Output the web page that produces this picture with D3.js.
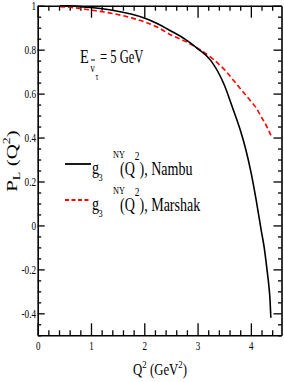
<!DOCTYPE html>
<html>
<head>
<meta charset="utf-8">
<script src="https://cdn.jsdelivr.net/npm/d3@7"></script>
<style>
  body { margin: 0; background: #fff; }
  svg { display: block; }
  text { font-family: "Liberation Serif", "Times New Roman", serif; fill: #000; }
</style>
</head>
<body>
<script>
// values
var q2Nambu = [0.42, 0.6, 0.8, 1.0, 1.25, 1.5, 1.75, 2.0, 2.25, 2.5, 2.75, 3.0, 3.25, 3.5, 3.65, 3.8, 3.9, 4.0, 4.1, 4.2, 4.25, 4.3, 4.34, 4.36, 4.375];
var pNambu  = [1.0, 0.999, 0.996, 0.992, 0.985, 0.975, 0.962, 0.944, 0.918, 0.885, 0.85, 0.805, 0.75, 0.64, 0.54, 0.435, 0.35, 0.245, 0.115, -0.03, -0.1, -0.195, -0.28, -0.34, -0.42];
var q2Marshak = [0.42, 0.6, 0.8, 1.0, 1.25, 1.5, 1.75, 2.0, 2.25, 2.5, 2.75, 3.0, 3.25, 3.5, 3.75, 4.0, 4.1, 4.2, 4.3, 4.375];
var pMarshak  = [0.996, 0.993, 0.987, 0.98, 0.971, 0.96, 0.945, 0.927, 0.902, 0.867, 0.84, 0.807, 0.765, 0.71, 0.638, 0.565, 0.535, 0.492, 0.45, 0.41];
var xTicks = [0, 1, 2, 3, 4];
var yTicks = [-0.4, -0.2, 0, 0.2, 0.4, 0.6, 0.8, 1];
var yTickLabels = ["-0.4", "-0.2", "0", "0.2", "0.4", "0.6", "0.8", "1"];
var seriesNames = ["Nambu", "Marshak"];

var W = 284, H = 382;
var margin = {top: 5.7, right: 2.5, bottom: 46.7, left: 37.7};
var width = W - margin.left - margin.right,
    height = H - margin.top - margin.bottom;

var svg = d3.select("body").append("svg")
    .attr("width", W)
    .attr("height", H);

var g = svg.append("g")
    .attr("transform", "translate(" + margin.left + "," + margin.top + ")");

var x = d3.scaleLinear().domain([0, 4.575]).range([0, width]);
var y = d3.scaleLinear().domain([-0.5, 1]).range([height, 0]);

var minorX = d3.range(0, 4.6, 0.2).filter(function(d) { return Math.abs(d - Math.round(d)) > 1e-6; });
var minorY = d3.range(-0.5, 1.001, 0.05).filter(function(d) { return Math.abs(d * 5 - Math.round(d * 5)) > 1e-6; });

function styleAxis(sel) {
  sel.selectAll("path").attr("stroke", "#000").attr("stroke-width", 1.6);
  sel.selectAll("line").attr("stroke", "#000").attr("stroke-width", 1.3);
}

// minor ticks, all pointing inward
g.append("g").attr("transform", "translate(0," + height + ")")
  .call(d3.axisBottom(x).tickValues(minorX).tickSize(-5).tickFormat(""))
  .call(styleAxis).select(".domain").remove();
g.append("g")
  .call(d3.axisTop(x).tickValues(minorX).tickSize(-5).tickFormat(""))
  .call(styleAxis).select(".domain").remove();
g.append("g")
  .call(d3.axisLeft(y).tickValues(minorY).tickSize(-3.5).tickFormat(""))
  .call(styleAxis).select(".domain").remove();
g.append("g").attr("transform", "translate(" + width + ",0)")
  .call(d3.axisRight(y).tickValues(minorY).tickSize(-3.5).tickFormat(""))
  .call(styleAxis).select(".domain").remove();

// major ticks + frame
var xAxis = g.append("g").attr("transform", "translate(0," + height + ")")
  .call(d3.axisBottom(x).tickValues(xTicks).tickSize(-12).tickSizeOuter(0).tickPadding(7).tickFormat(d3.format("d")))
  .call(styleAxis);
g.append("g")
  .call(d3.axisTop(x).tickValues(xTicks).tickSize(-12).tickSizeOuter(0).tickFormat(""))
  .call(styleAxis);
var yAxis = g.append("g")
  .call(d3.axisLeft(y).tickValues(yTicks).tickSize(-7).tickSizeOuter(0).tickPadding(2)
    .tickFormat(function(d, i) { return yTickLabels[i]; }))
  .call(styleAxis);
g.append("g").attr("transform", "translate(" + width + ",0)")
  .call(d3.axisRight(y).tickValues(yTicks).tickSize(-8).tickSizeOuter(0).tickFormat(""))
  .call(styleAxis);

xAxis.selectAll("text").attr("font-size", 11.5).attr("font-family", "Liberation Serif")
  .attr("transform", "scale(0.78,1)");
yAxis.selectAll("text").attr("font-size", 11.5).attr("font-family", "Liberation Serif")
  .attr("transform", "scale(0.8,1)");

// curves
var line = d3.line()
  .x(function(d) { return x(d[0]); })
  .y(function(d) { return y(d[1]); })
  .curve(d3.curveMonotoneX);

g.append("path")
  .datum(d3.zip(q2Marshak, pMarshak))
  .attr("fill", "none").attr("stroke", "#f00").attr("stroke-width", 1.6)
  .attr("stroke-dasharray", "5,3")
  .attr("d", line);

g.append("path")
  .datum(d3.zip(q2Nambu, pNambu))
  .attr("fill", "none").attr("stroke", "#000").attr("stroke-width", 1.6)
  .attr("d", line);

// squeezed serif text, like the picture
function txt(px, py, size, sx) {
  return svg.append("text")
    .attr("transform", "translate(" + px + "," + py + ") scale(" + sx + ",1)")
    .attr("font-size", size);
}

// energy annotation: E with subscript nu-bar tau
txt(80, 63, 18, 0.8).text("E");
svg.append("line").attr("x1", 91).attr("x2", 95).attr("y1", 60).attr("y2", 60)
  .attr("stroke", "#000").attr("stroke-width", 1);
txt(90.5, 72, 13, 0.7).text("\u03bd");
txt(95.5, 80, 10, 0.7).text("\u03c4");
txt(100, 63, 18, 0.7).text("= 5 GeV");

// legend
var legendColors = ["#000", "#f00"];
var legendDash = [null, "4,2.5"];
seriesNames.forEach(function(name, i) {
  var ly = 164 + 36 * i, by = 175 + 36 * i;
  svg.append("line")
    .attr("x1", 65).attr("x2", 91).attr("y1", ly).attr("y2", ly)
    .attr("stroke", legendColors[i]).attr("stroke-width", 1.8)
    .attr("stroke-dasharray", legendDash[i]);
  txt(92, by - 1, 18, 0.78).text("g");
  txt(98.5, by + 6, 11, 0.75).text("3");
  txt(113, by - 17, 11, 0.75).text("NY");
  var t = txt(120, by, 18, 0.78);
  t.append("tspan").text("(Q");
  t.append("tspan").attr("dy", -15).attr("font-size", 12).text("2");
  t.append("tspan").attr("dy", 15).text("), " + name);
});

// axis titles
var xt = svg.append("text")
  .attr("transform", "translate(160,375) scale(0.8,1)")
  .attr("font-size", 16)
  .attr("text-anchor", "middle");
xt.append("tspan").text("Q");
xt.append("tspan").attr("dy", -7).attr("font-size", 11).text("2");
xt.append("tspan").attr("dy", 7).text(" (GeV");
xt.append("tspan").attr("dy", -7).attr("font-size", 11).text("2");
xt.append("tspan").attr("dy", 7).text(")");

var yt = svg.append("text")
  .attr("transform", "translate(16.5,161) rotate(-90) scale(1,0.68)")
  .attr("font-size", 21)
  .attr("text-anchor", "middle");
yt.append("tspan").text("P");
yt.append("tspan").attr("dy", 5).attr("font-size", 14).text("L");
yt.append("tspan").attr("dy", -5).text(" (Q");
yt.append("tspan").attr("dy", -9).attr("font-size", 14).text("2");
yt.append("tspan").attr("dy", 9).text(")");
</script>
</body>
</html>
